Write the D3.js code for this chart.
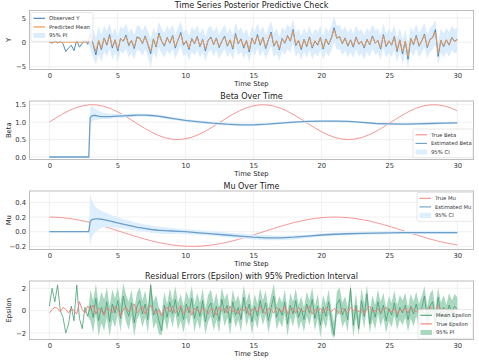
<!DOCTYPE html>
<html><head><meta charset="utf-8">
<script src="https://cdn.jsdelivr.net/npm/d3@7/dist/d3.min.js"></script>
<style>body{margin:0;background:#fff}svg{display:block;font-family:"DejaVu Sans",sans-serif}</style>
</head><body><svg id="c" width="479" height="360"></svg>
<script>
// ---------- DATA ----------
const xTicks = [0, 5, 10, 15, 20, 25, 30];
// noisy series: 150 samples over 0..30
const observedY = [0.1,-0.2,0.3,-0.1,0.2,-0.3,-1.9,-1.2,-0.6,-1.7,0.4,-1.0,-0.2,0.6,-0.4,
1.8,-0.5,-2.6,0.3,-1.5,0.9,-0.6,1.6,-1.2,0.5,-1.8,0.8,0.2,1.5,-0.7,0.4,-1.3,1.1,0.9,-0.3,
1.3,-0.5,-2.4,0.7,-1.0,1.9,0.2,-0.8,1.0,-0.2,1.4,-1.2,0.5,2.0,-0.6,0.3,-1.5,0.8,-0.3,1.2,
-0.9,0.6,-1.8,0.4,1.1,-0.5,0.9,-1.1,0.2,1.3,-0.8,0.5,-1.4,1.8,-0.3,0.7,-1.2,0.4,-2.0,0.9,
-0.4,1.6,-0.6,1.0,-1.3,0.5,2.1,-0.8,0.3,-1.6,0.8,-0.2,1.4,0.2,2.6,-0.7,0.4,-1.5,0.6,-0.9,
1.1,-1.2,0.3,-0.6,1.0,-1.4,0.7,-0.5,0.9,3.0,0.8,1.2,-0.3,0.9,-0.8,0.5,-1.0,1.1,-0.4,0.2,
-1.2,0.6,-0.5,1.3,-0.2,0.4,-1.4,1.6,-0.9,0.3,-0.6,1.2,-1.9,0.5,-2.4,0.2,-3.5,0.8,-0.5,1.4,
-0.8,0.3,1.7,-1.1,0.6,1.0,2.6,-2.9,0.4,-0.9,0.5,-0.6,1.0,0.2,0.6];
const predMean = [0,0,0,0,0,0,0,0,0,0,0,0,0,0,0,
1.4,-0.3,-1.8,0.4,-1.2,0.8,-0.4,1.3,-0.9,0.5,-1.4,0.7,0.3,1.2,-0.5,0.4,-1.0,0.9,0.8,-0.2,
1.1,-0.3,-1.9,0.6,-0.8,1.6,0.3,-0.6,0.9,-0.1,1.2,-0.9,0.5,1.7,-0.4,0.3,-1.2,0.7,-0.2,1.0,
-0.7,0.5,-1.4,0.4,0.9,-0.4,0.8,-0.9,0.2,1.1,-0.6,0.5,-1.1,1.5,-0.2,0.6,-0.9,0.4,-1.6,0.8,
-0.3,1.3,-0.4,0.9,-1.0,0.5,1.8,-0.6,0.3,-1.3,0.7,-0.1,1.2,0.3,2.3,-0.5,0.4,-1.2,0.5,-0.7,
0.9,-1.0,0.3,-0.4,0.9,-1.1,0.6,-0.4,0.8,2.6,0.9,1.1,-0.2,0.8,-0.6,0.5,-0.8,1.0,-0.3,0.2,
-1.0,0.5,-0.4,1.1,-0.1,0.4,-1.1,1.4,-0.7,0.3,-0.5,1.0,-1.6,0.5,-2.0,0.2,-2.9,0.7,-0.4,1.2,
-0.6,0.3,1.5,-0.9,0.5,0.9,2.1,-2.3,0.4,-0.7,0.5,-0.5,0.9,0.2,0.5];
const predHi = [0,0,0,0,0,0,0,0,0,0,0,0,0,0,0,
4.0,2.6,1.0,3.2,1.5,3.4,2.3,3.9,1.7,3.0,1.2,3.3,2.7,3.8,2.0,2.9,1.5,3.4,3.3,2.3,
3.6,2.2,0.8,3.1,1.7,4.2,2.8,1.9,3.4,2.4,3.7,1.6,3.0,4.3,2.1,2.8,1.3,3.2,2.3,3.5,
1.8,3.0,1.1,2.9,3.4,2.1,3.3,1.6,2.7,3.6,1.9,3.0,1.4,4.0,2.3,3.1,1.6,2.9,0.9,3.3,
2.2,3.8,2.1,3.4,1.5,3.0,4.3,1.9,2.8,1.2,3.2,2.4,3.7,2.8,4.8,2.0,2.9,1.3,3.0,1.8,
3.4,1.5,2.8,2.1,3.4,1.4,3.1,2.1,3.3,5.4,3.4,3.6,2.3,3.3,1.9,3.0,1.7,3.5,2.2,2.7,
1.5,3.0,2.1,3.6,2.4,2.9,1.4,3.9,1.8,2.8,2.0,3.5,0.9,3.0,0.5,2.7,-0.4,3.2,2.1,3.7,
1.9,2.8,4.0,1.6,3.0,3.4,4.6,0.2,2.9,1.8,3.0,2.0,3.4,2.7,3.0];
const predLo = [0,0,0,0,0,0,0,0,0,0,0,0,0,0,0,
-1.4,-3.1,-4.6,-2.5,-4.0,-1.9,-3.0,-1.3,-3.6,-2.1,-4.0,-1.9,-2.3,-1.4,-3.1,-2.2,-3.5,-1.6,-1.8,-2.8,
-1.5,-2.9,-5.3,-2.0,-3.4,-1.0,-2.3,-3.1,-1.7,-2.6,-1.4,-3.4,-2.0,-0.9,-3.0,-2.2,-3.8,-1.9,-2.7,-1.6,
-3.2,-2.0,-4.0,-2.1,-1.6,-2.9,-1.7,-3.4,-2.3,-1.4,-3.1,-2.0,-3.6,-1.0,-2.7,-1.9,-3.4,-2.1,-4.1,-1.7,
-2.8,-1.2,-2.9,-1.6,-3.5,-2.0,-0.7,-3.1,-2.2,-3.8,-1.8,-2.6,-1.3,-2.2,-0.2,-3.0,-2.1,-3.7,-2.0,-3.2,
-1.6,-3.5,-2.2,-2.9,-1.6,-3.6,-1.9,-2.9,-1.7,0.1,-1.6,-1.4,-2.7,-1.7,-3.1,-2.0,-3.3,-1.5,-2.8,-2.3,
-3.5,-2.0,-2.9,-1.4,-2.6,-2.1,-3.6,-1.1,-3.2,-2.2,-3.0,-1.5,-4.1,-2.0,-4.5,-2.3,-5.4,-1.8,-2.9,-1.3,
-3.1,-2.2,-1.0,-3.4,-2.0,-1.6,-0.4,-4.8,-2.1,-3.2,-2.0,-3.0,-1.6,-2.3,-2.0];

const epsMean = [0.4,2.0,0.8,2.3,0.0,-0.6,-2.0,-1.2,0.4,-0.9,2.3,-0.7,-1.6,0.3,-0.5,
0.5,-0.6,1.1,-0.9,0.3,-0.4,0.8,-1.0,0.6,-0.2,0.9,-0.7,1.3,0.2,-0.5,0.7,-1.1,0.4,0.9,-0.3,
0.6,-0.8,2.3,-0.4,0.2,-0.9,-1.8,0.5,-0.6,0.8,-0.3,1.0,-0.5,0.3,-0.8,0.6,-0.2,1.1,-0.7,0.4,
-0.5,0.9,-1.0,0.2,0.7,-0.6,0.4,-0.9,1.0,-0.2,0.5,-1.1,0.8,-0.4,0.3,-0.8,1.2,-0.3,0.6,-1.0,
0.4,-0.5,0.9,-0.2,0.7,-0.9,0.3,1.3,-0.6,0.2,-0.4,0.8,-1.2,0.5,-0.3,0.9,-0.6,0.2,-0.8,0.6,
-0.2,1.0,-0.7,0.4,-1.3,0.3,-0.5,0.8,-0.9,-2.2,0.6,1.0,-0.4,0.2,-0.8,2.0,-1.3,0.5,-1.6,0.9,
-0.5,1.5,-1.2,0.3,-0.6,0.8,-0.3,0.5,-0.9,0.2,-0.4,0.7,-0.6,0.3,-0.2,0.5,-0.8,0.4,-0.3,0.6,
-0.5,0.2,1.3,-0.7,0.4,0.8,-1.0,1.2,-0.4,0.3,-0.6,0.5,-0.2,0.4,0.1];
const epsHi = [0.4,2.0,0.8,2.3,0.0,-0.6,-2.0,-1.2,0.4,-0.9,2.3,-0.7,-1.6,0.3,-0.5,
1.9,0.9,2.4,0.6,1.7,1.0,2.1,0.4,1.9,1.1,2.1,0.6,2.5,1.4,0.8,1.9,0.1,1.6,2.1,0.9,
1.8,0.4,2.6,0.8,1.4,0.3,-0.2,1.7,0.6,2.0,0.9,2.2,0.7,1.5,0.4,1.8,1.0,2.2,0.5,1.6,
0.7,2.0,0.2,1.4,1.9,0.6,1.6,0.3,2.1,1.0,1.6,0.1,1.9,0.8,1.4,0.4,2.3,0.8,1.7,0.2,
1.5,0.6,2.0,0.9,1.8,0.2,1.4,2.4,0.5,1.3,0.7,1.9,-0.1,1.6,0.8,2.0,0.5,1.3,0.3,1.7,
0.9,2.1,0.4,1.5,-0.2,1.4,0.6,1.9,0.2,-1.1,1.7,2.1,0.7,1.3,0.3,2.4,-0.2,1.6,-0.5,2.0,
0.6,2.3,-0.1,1.4,0.5,1.9,0.8,1.6,0.2,1.3,0.7,1.8,0.5,1.4,0.9,1.6,0.3,1.5,0.8,1.7,
0.6,1.3,2.2,0.4,1.5,1.9,0.1,2.1,0.7,1.4,0.5,1.6,0.9,1.5,1.2];
const epsLo = [0.4,2.0,0.8,2.3,0.0,-0.6,-2.0,-1.2,0.4,-0.9,2.3,-0.7,-1.6,0.3,-0.5,
-0.9,-2.0,-0.3,-2.3,-1.1,-1.8,-0.6,-2.3,-0.8,-1.5,-0.3,-1.9,0.1,-1.0,-1.7,-0.5,-2.3,-0.8,-0.3,-1.5,
-0.6,-2.0,0.4,-1.6,-1.0,-2.1,-2.2,-0.7,-1.8,-0.4,-1.5,-0.2,-1.7,-0.9,-2.0,-0.6,-1.4,-0.1,-1.9,-0.8,
-1.7,-0.3,-2.1,-1.0,-0.5,-1.8,-0.8,-2.0,-0.1,-1.4,-0.6,-2.2,-0.3,-1.5,-0.8,-1.9,0.1,-1.4,-0.5,-2.1,
-0.7,-1.6,-0.2,-1.3,-0.4,-2.0,-0.8,0.2,-1.7,-0.9,-1.5,-0.3,-2.3,-0.6,-1.4,-0.2,-1.7,-0.9,-1.9,-0.5,
-1.3,-0.1,-1.8,-0.7,-2.4,-0.8,-1.6,-0.3,-2.0,-2.5,-0.5,-0.1,-1.5,-0.9,-1.9,0.9,-2.4,-0.6,-2.2,-0.2,
-1.6,0.4,-2.0,-0.8,-1.7,-0.3,-1.4,-0.6,-2.0,-0.9,-1.5,-0.4,-1.7,-0.8,-1.3,-0.6,-1.9,-0.7,-1.4,-0.5,
-1.6,-0.9,0.2,-1.8,-0.7,-0.3,-2.1,0.1,-1.5,-0.8,-1.7,-0.6,-1.3,-0.7,-1.0];
const epsTrue = [-0.2,0.1,0.3,0.2,-0.1,0.3,0.1,-0.2,0.2,0.0,-0.3,0.8,0.1,-0.2,0.4,
0.1,0.5,-0.3,0.2,0.0,-0.4,0.3,0.1,-0.2,0.4,0.2,-0.5,0.1,0.3,-0.1,
0.2,0.6,-0.2,0.1,0.4,-0.3,0.2,0.5,0.0,-0.3,0.1,-0.5,0.2,0.3,-0.1,
0.4,-0.2,0.1,0.5,-0.3,0.0,0.3,-0.4,0.2,0.1,-0.2,0.3,0.0,-0.3,0.2,
0.1,-0.4,0.3,0.0,0.2,-0.2,0.4,-0.1,0.1,-0.3,0.2,0.0,0.3,-0.4,0.1,
0.2,-0.1,0.4,0.0,-0.3,0.2,0.1,-0.2,0.3,0.0,-0.1,0.4,-0.3,0.1,0.2,
-0.2,0.3,0.0,-0.1,0.2,0.4,-0.3,0.1,0.0,0.2,-0.2,0.3,0.1,-0.1,0.2,
0.0,-0.3,0.2,0.1,-0.2,0.3,0.0,0.2,-0.1,0.1,-0.3,0.2,0.4,-0.1,0.0,
0.2,-0.2,0.1,0.3,0.0,-0.1,0.2,-0.3,0.1,0.0,0.2,-0.2,0.3,0.1,-0.1,
0.0,0.2,-0.3,0.1,0.4,0.0,-0.2,0.5,0.1,-0.1,0.2,0.0,-0.2,0.1,0.0];

// smooth true parameters, sampled every 0.5
const trueBeta = [1.000,1.124,1.240,1.341,1.421,1.475,1.499,1.492,1.455,1.389,1.299,1.191,1.071,0.946,0.825,0.714,0.622,0.553,0.511,0.500,0.521,0.571,0.647,0.746,0.860,0.983,1.108,1.225,1.329,1.412,1.469,1.497,1.495,1.461,1.399,1.312,1.206,1.087,0.962,0.840,0.728,0.633,0.560,0.515,0.500,0.516,0.562,0.636,0.732,0.844,0.967,1.092,1.210,1.316,1.402,1.464,1.495,1.497,1.467,1.409,1.325];
const trueMu = [0.2,0.1978,0.1911,0.1802,0.1652,0.1466,0.1247,0.1,0.0731,0.0445,0.0149,-0.0149,-0.0445,-0.0731,-0.1,-0.1247,-0.1466,-0.1652,-0.1802,-0.1911,-0.1978,-0.2,-0.1978,-0.1911,-0.1802,-0.1652,-0.1466,-0.1247,-0.1,-0.0731,-0.0445,-0.0149,0.0149,0.0445,0.0731,0.1,0.1247,0.1466,0.1652,0.1802,0.1911,0.1978,0.2,0.1978,0.1911,0.1802,0.1652,0.1466,0.1247,0.1,0.0731,0.0445,0.0149,-0.0149,-0.0445,-0.0731,-0.1,-0.1247,-0.1466,-0.1652,-0.1802];

// estimated parameters
const estT = [0,2.9,3.0,3.1,3.2,3.4,3.6,3.8,4.0,4.5,5,5.5,6,6.5,7,7.5,8,8.5,9,9.5,10,11,12,13,14,15,16,17,18,19,20,21,22,23,24,25,26,27,28,29,30];
const betaEst = [0,0,1.12,1.17,1.19,1.19,1.17,1.16,1.16,1.16,1.17,1.18,1.19,1.20,1.20,1.19,1.17,1.14,1.11,1.08,1.05,1.01,0.97,0.94,0.92,0.92,0.94,0.97,1.00,1.02,1.03,1.03,1.02,0.99,0.96,0.95,0.94,0.95,0.96,0.97,0.98];
const betaHi = [0.02,0.02,1.42,1.46,1.45,1.38,1.33,1.29,1.27,1.24,1.23,1.23,1.23,1.24,1.24,1.23,1.21,1.18,1.15,1.12,1.09,1.05,1.01,0.98,0.96,0.96,0.97,1.00,1.03,1.05,1.06,1.06,1.05,1.02,0.99,0.98,0.97,0.98,0.99,1.00,1.01];
const betaLo = [-0.02,-0.02,0.95,1.00,1.04,1.06,1.07,1.08,1.09,1.10,1.12,1.13,1.15,1.16,1.16,1.15,1.13,1.10,1.07,1.04,1.01,0.97,0.93,0.90,0.88,0.88,0.91,0.94,0.97,0.99,1.00,1.00,0.99,0.96,0.93,0.92,0.91,0.92,0.93,0.94,0.95];
const muEst = [0,0,0.14,0.16,0.17,0.175,0.175,0.17,0.165,0.145,0.12,0.10,0.08,0.06,0.045,0.03,0.02,0.015,0.01,0.005,0.0,-0.015,-0.03,-0.045,-0.06,-0.075,-0.085,-0.085,-0.075,-0.06,-0.045,-0.035,-0.028,-0.022,-0.018,-0.015,-0.012,-0.012,-0.012,-0.012,-0.012];
const muHi = [0.01,0.01,0.52,0.45,0.40,0.34,0.31,0.29,0.27,0.23,0.20,0.17,0.145,0.12,0.10,0.085,0.07,0.06,0.05,0.04,0.035,0.02,0.005,-0.01,-0.025,-0.04,-0.05,-0.055,-0.05,-0.04,-0.025,-0.015,-0.008,-0.002,0.002,0.005,0.008,0.008,0.008,0.008,0.008];
const muLo = [-0.01,-0.01,-0.19,-0.10,-0.05,0.0,0.03,0.05,0.06,0.06,0.05,0.04,0.025,0.01,0.0,-0.015,-0.025,-0.03,-0.03,-0.03,-0.035,-0.045,-0.055,-0.075,-0.09,-0.105,-0.115,-0.115,-0.105,-0.085,-0.065,-0.055,-0.048,-0.042,-0.038,-0.035,-0.032,-0.032,-0.032,-0.032,-0.032];

// time axes (sample positions)
const tNoisy = observedY.map((_, i) => i * 30 / (observedY.length - 1));
const tTrue = trueBeta.map((_, i) => i * 0.5);

// ---------- DRAW ----------
const svg = d3.select("#c");
const X0 = 29.5, X1 = 473.5;
const x = d3.scaleLinear().domain([-1.46, 31.19]).range([X0, X1]);

const panels = [
  {top:10.5, bot:69.5, dom:[-5.59,6.53], ticks:[-5,0,5], fmt:d3.format("d"), title:"Time Series Posterior Predictive Check", ylab:"Y"},
  {top:101, bot:159.5, dom:[-0.072,1.606], ticks:[0,0.5,1,1.5], fmt:d3.format(".1f"), title:"Beta Over Time", ylab:"Beta"},
  {top:191, bot:249.5, dom:[-0.243,0.556], ticks:[-0.2,0,0.2,0.4], fmt:d3.format(".1f"), title:"Mu Over Time", ylab:"Mu"},
  {top:281, bot:339.5, dom:[-2.57,2.65], ticks:[-2,0,2], fmt:d3.format("d"), title:"Residual Errors (Epsilon) with 95% Prediction Interval", ylab:"Epsilon"}
];

const defs = svg.append("defs");
panels.forEach((p, k) => {
  p.y = d3.scaleLinear().domain(p.dom).range([p.bot, p.top]);
  defs.append("clipPath").attr("id", "clip" + k).append("rect")
    .attr("x", X0).attr("y", p.top).attr("width", X1 - X0).attr("height", p.bot - p.top);
  const g = svg.append("g");
  p.g = g;
  // grid
  g.selectAll(".gx").data(xTicks).join("line")
    .attr("x1", d => x(d)).attr("x2", d => x(d)).attr("y1", p.top).attr("y2", p.bot)
    .attr("stroke", "#ececec").attr("stroke-width", 0.8);
  g.selectAll(".gy").data(p.ticks).join("line")
    .attr("x1", X0).attr("x2", X1).attr("y1", d => p.y(d)).attr("y2", d => p.y(d))
    .attr("stroke", "#ececec").attr("stroke-width", 0.8);
  // axes (labels only)
  const ax = d3.axisBottom(x).tickValues(xTicks).tickSize(0).tickPadding(4).tickFormat(d3.format("d"));
  const axg = g.append("g").attr("transform", `translate(0,${p.bot})`).call(ax);
  const ay = d3.axisLeft(p.y).tickValues(p.ticks).tickSize(0).tickPadding(3.5)
    .tickFormat(d => p.fmt(d).replace("-", "\u2212"));
  const ayg = g.append("g").attr("transform", `translate(${X0},0)`).call(ay);
  [axg, ayg].forEach(a => {
    a.select(".domain").remove();
    a.selectAll("text").attr("font-size", 6.8).attr("fill", "#333").attr("font-family", "DejaVu Sans");
  });
  svg.append("text").attr("x", (X0 + X1) / 2).attr("y", p.bot + 16).attr("text-anchor", "middle")
    .attr("font-size", 6.8).attr("fill", "#222").text("Time Step");
  svg.append("text").attr("transform", `translate(11,${(p.top + p.bot) / 2}) rotate(-90)`)
    .attr("text-anchor", "middle").attr("font-size", 6.8).attr("fill", "#222").text(p.ylab);
  svg.append("text").attr("x", (X0 + X1) / 2).attr("y", p.top - 2.3).attr("text-anchor", "middle")
    .attr("font-size", 8).attr("fill", "#222").text(p.title);
  p.plot = g.append("g").attr("clip-path", `url(#clip${k})`);
});

function area(ts, lo, hi, y) {
  return d3.area().x((d, i) => x(ts[i])).y0((d, i) => y(lo[i])).y1((d, i) => y(hi[i]))(lo);
}
function line(ts, v, y) {
  return d3.line().x((d, i) => x(ts[i])).y(d => y(d))(v);
}

// Panel 1
{
  const p = panels[0], y = p.y;
  p.plot.append("path").attr("d", area(tNoisy, predLo, predHi, y)).attr("fill", "#dbecfd");
  p.plot.append("path").attr("d", line(tNoisy, observedY, y)).attr("fill", "none").attr("stroke", "#3f7fb5").attr("stroke-width", 0.9);
  p.plot.append("path").attr("d", line(tNoisy, predMean, y)).attr("fill", "none").attr("stroke", "#f39a4c").attr("stroke-width", 0.9);
}
// Panel 2
{
  const p = panels[1], y = p.y;
  p.plot.append("path").attr("d", line(tTrue, trueBeta, y).replace(/.*/, s => s)).attr("fill", "none").attr("stroke", "#f48b8b").attr("stroke-width", 0.9);
  p.plot.append("path").attr("d", area(estT, betaLo, betaHi, y)).attr("fill", "#ddeefd");
  p.plot.append("path").attr("d", line(estT, betaEst, y)).attr("fill", "none").attr("stroke", "#6b9ec9").attr("stroke-width", 1.3);
}
// Panel 3
{
  const p = panels[2], y = p.y;
  p.plot.append("path").attr("d", line(tTrue, trueMu, y)).attr("fill", "none").attr("stroke", "#f48b8b").attr("stroke-width", 0.9);
  p.plot.append("path").attr("d", area(estT, muLo, muHi, y)).attr("fill", "#ddeefd");
  p.plot.append("path").attr("d", line(estT, muEst, y)).attr("fill", "none").attr("stroke", "#6b9ec9").attr("stroke-width", 1.3);
}
// Panel 4
{
  const p = panels[3], y = p.y;
  p.plot.append("path").attr("d", area(tNoisy, epsLo, epsHi, y)).attr("fill", "#a9d8c0");
  p.plot.append("path").attr("d", line(tNoisy, epsMean, y)).attr("fill", "none").attr("stroke", "#4a9d75").attr("stroke-width", 0.8);
  p.plot.append("path").attr("d", line(tNoisy, epsTrue, y)).attr("fill", "none").attr("stroke", "#f27a7a").attr("stroke-width", 0.9);
}

// frames
panels.forEach(p => {
  svg.append("rect").attr("x", X0).attr("y", p.top).attr("width", X1 - X0).attr("height", p.bot - p.top)
    .attr("fill", "none").attr("stroke", "#bdbdbd").attr("stroke-width", 1);
});

// legends
function legend(x0, y0, w, items) {
  const g = svg.append("g");
  g.append("rect").attr("x", x0).attr("y", y0).attr("width", w).attr("height", items.length * 8.6 + 3)
    .attr("rx", 1.5).attr("fill", "#fff").attr("fill-opacity", 0.85).attr("stroke", "#d6d6d6").attr("stroke-width", 0.6);
  items.forEach((it, i) => {
    const cy = y0 + 5.8 + i * 8.6;
    if (it.type === "line") {
      g.append("line").attr("x1", x0 + 2.5).attr("x2", x0 + 14).attr("y1", cy).attr("y2", cy)
        .attr("stroke", it.color).attr("stroke-width", it.w || 1.1);
    } else {
      g.append("rect").attr("x", x0 + 2.5).attr("y", cy - 2.5).attr("width", 11.5).attr("height", 5).attr("fill", it.color);
    }
    g.append("text").attr("x", x0 + 18).attr("y", cy + 1.9).attr("font-size", 5.3).attr("fill", "#333").text(it.label);
  });
}
legend(31, 12.5, 62, [
  {type:"line", color:"#3f7fb5", label:"Observed Y"},
  {type:"line", color:"#f6b27a", label:"Predicted Mean", w:1.6},
  {type:"rect", color:"#dbecfd", label:"95% PI"}]);
legend(413, 129, 60, [
  {type:"line", color:"#f48b8b", label:"True Beta"},
  {type:"line", color:"#6b9ec9", label:"Estimated Beta"},
  {type:"rect", color:"#ddeefd", label:"95% CI"}]);
legend(417, 192.5, 56, [
  {type:"line", color:"#f48b8b", label:"True Mu"},
  {type:"line", color:"#6b9ec9", label:"Estimated Mu"},
  {type:"rect", color:"#ddeefd", label:"95% CI"}]);
legend(418, 309.5, 55, [
  {type:"line", color:"#4a9d75", label:"Mean Epsilon"},
  {type:"line", color:"#f27a7a", label:"True Epsilon"},
  {type:"rect", color:"#a9d8c0", label:"95% PI"}]);
</script></body></html>
